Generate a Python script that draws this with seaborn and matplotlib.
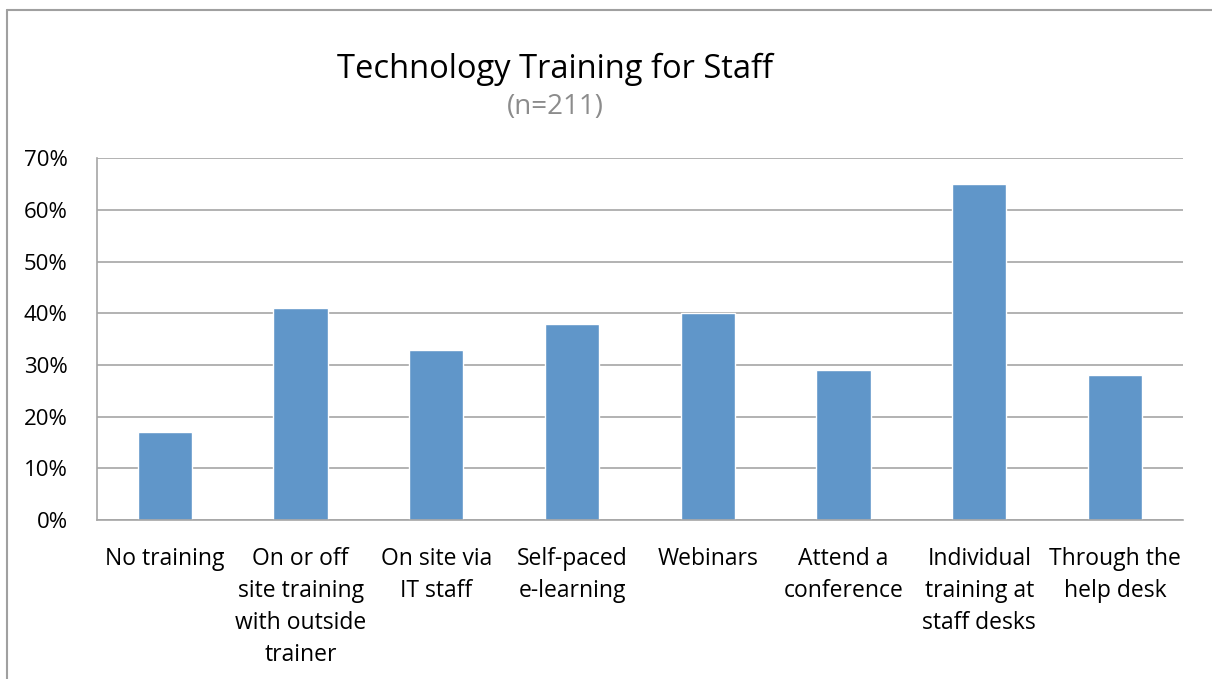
import numpy as np
import pandas as pd
import seaborn as sns
import matplotlib.pyplot as plt
from matplotlib.lines import Line2D
from matplotlib.ticker import PercentFormatter

# данные

categories = [
    "No training",
    "On or off\nsite training\nwith outside\ntrainer",
    "On site via\nIT staff",
    "Self-paced\ne-learning",
    "Webinars",
    "Attend a\nconference",
    "Individual\ntraining at\nstaff desks",
    "Through the\nhelp desk",
]

shares = [17, 41, 33, 38, 40, 29, 65, 28]

y_ticks = [0, 10, 20, 30, 40, 50, 60, 70]

df = pd.DataFrame({"category": categories, "share": shares})

sns.set_style("white")
plt.rcParams["font.family"] = ["Open Sans", "DejaVu Sans"]

fig = plt.figure(figsize=(12.12, 6.79), dpi=100)
ax = fig.add_axes([0.080, 0.234, 0.896, 0.533])

sns.barplot(
    data=df,
    x="category",
    y="share",
    color="#6096c9",
    saturation=1,
    width=0.4,
    ax=ax,
)

grid_color = "#a6a6a6"

ax.set_ylim(0, 70)
ax.set_xlim(-0.5, len(categories) - 0.5)
ax.set_yticks(y_ticks)
ax.yaxis.set_major_formatter(PercentFormatter(decimals=0))
ax.yaxis.grid(True, color=grid_color, linewidth=1.2)
ax.set_axisbelow(True)

# метки категорий между столбцами
ax.set_xticks(np.arange(-0.5, len(categories)), minor=True)
ax.tick_params(axis="x", which="minor", length=8, color=grid_color, width=1.2, direction="out")
ax.tick_params(axis="x", which="major", length=0, pad=19, labelsize=16.5, labelcolor="black")
ax.tick_params(axis="y", length=8, color=grid_color, width=1.2, pad=13, labelsize=16, labelcolor="black", direction="out")
ax.set_xticklabels(categories, linespacing=1.45)

for side in ["top", "right"]:
    ax.spines[side].set_visible(False)
for side in ["left", "bottom"]:
    ax.spines[side].set_color(grid_color)
    ax.spines[side].set_linewidth(1.2)

ax.set_xlabel("")
ax.set_ylabel("")

fig.text(0.458, 0.898, "Technology Training for Staff", ha="center", va="center", fontsize=23.5, color="black")
fig.text(0.458, 0.842, "(n=211)", ha="center", va="center", fontsize=20, color="#8c8c8c")

# рамка диаграммы
fig.add_artist(Line2D([7 / 1212, 1.0], [1 - 10 / 679, 1 - 10 / 679], color="#a0a0a0", linewidth=1.5))
fig.add_artist(Line2D([7 / 1212, 7 / 1212], [0.0, 1 - 10 / 679], color="#a0a0a0", linewidth=1.5))

fig.savefig("out.png", dpi=100)
